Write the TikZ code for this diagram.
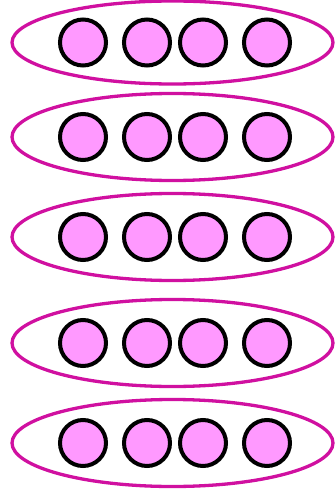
\documentclass[tikz,border=0pt]{standalone}
\definecolor{ringcol}{RGB}{208,16,160}
\definecolor{ballfill}{RGB}{255,153,255}
\begin{document}
\begin{tikzpicture}[x=1pt,y=-1pt,
  ring/.style={draw=ringcol,line width=3.3pt},
  ball/.style={circle,draw=black,fill=ballfill,line width=4pt,minimum size=46pt,inner sep=0pt}]
\useasboundingbox (0,0) rectangle (335,495);
\foreach \r/\y/\ry in {1/42.5/41.5,2/137/43.5,3/237/43.5,4/343/43.5,5/443/43.5}{
  \draw[ring] (172.5,\y) ellipse [x radius=160.5, y radius=\ry];
  \foreach \c/\x in {1/83,2/147,3/203,4/267}{
    \node[ball] (b\r\c) at (\x,\y) {};
  }
}
\end{tikzpicture}
\end{document}
